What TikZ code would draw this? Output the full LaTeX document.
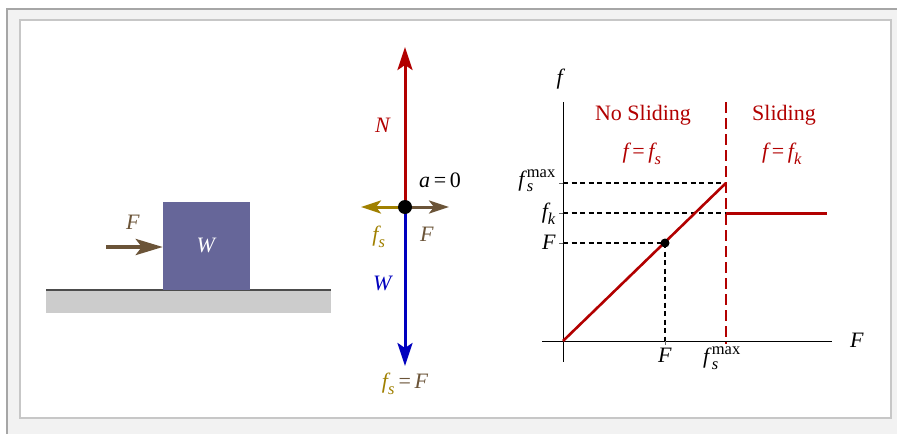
\documentclass[tikz,border=0pt]{standalone}
\usepackage{amsmath}
\usepackage{fontspec}
\setmainfont{Liberation Serif}
\usetikzlibrary{arrows.meta}
\definecolor{fred}{RGB}{178,0,0}
\definecolor{fblue}{RGB}{0,0,190}
\definecolor{fgold}{RGB}{160,128,0}
\definecolor{fbrown}{RGB}{107,84,56}
\definecolor{fblock}{RGB}{102,102,153}
\DeclareMathSizes{22}{22}{16.5}{12}
\newcommand\mi[1]{\textit{#1}}

\begin{document}
\begin{tikzpicture}[x=1pt, y=-1pt, font=\fontsize{22}{26}\selectfont,
  vec/.style={line width=3pt, -{Stealth[length=23pt, width=15pt, inset=5pt]}},
  side/.style={line width=3pt, -{Stealth[length=20pt, width=13pt, inset=5pt]}},
  push/.style={line width=4pt, fbrown, -{Stealth[length=27pt, width=16pt, inset=6pt]}},
  axis/.style={line width=0.9pt},
  guide/.style={line width=1.1pt, dash pattern=on 5pt off 3.5pt},
  limit/.style={fred, line width=1.8pt, dash pattern=on 11pt off 5pt},
  law/.style={fred, line width=2.6pt},
  lbl/.style={inner sep=1pt}]
  \useasboundingbox (0,0) rectangle (897,434);
  \fill[black!5] (7,9) rectangle (897,434);
  \draw[black!35, line width=2pt] (7,434) -- (7,9) -- (897,9);
  \draw[black!22, fill=white, line width=2pt] (20,20) rectangle (891,418);

  % block on the floor
  \fill[black!20] (46,290) rectangle (331,313);
  \draw[black!70, line width=1.5pt] (46,290) -- (331,290);
  \node[fill=fblock, minimum width=87pt, minimum height=88pt, text=white] (block) at (206.5,245.5) {\mi{W}};
  \coordinate (ftail) at (106,247);
  \draw[push] (ftail) -- (ftail -| block.west);
  \node[lbl, text=fbrown] (flbl) at (133,222) {\mi{F}};

  % free body diagram
  \coordinate (c) at (405,207);
  \coordinate (ntip) at (405,47);
  \coordinate (wtip) at (405,366);
  \coordinate (fstip) at (361,207);
  \coordinate (Ftip) at (449,207);
  \draw[vec, fred] (c) -- (ntip);
  \draw[vec, fblue] (c) -- (wtip);
  \draw[side, fgold] (c) -- (fstip);
  \draw[side, fbrown] (c) -- (Ftip);
  \node[circle, fill, inner sep=0, minimum size=14pt] (dot) at (c) {};
  \node[lbl, text=fred] (nlbl) at (383,125) {\mi{N}};
  \node[lbl, text=fblue] (wlbl) at (383,283) {\mi{W}};
  \node[lbl, text=fgold] (fslbl) at (379,237) {$\mi{f}_{\mi{s}}$};
  \node[lbl, text=fbrown] (Flbl) at (427,234) {\mi{F}};
  \node[lbl] (acc) at (440,180) {\mi{a}\,=\,0};
  \node[lbl] (bal) at (405,384) {$\color{fgold}\mi{f}_{\mi{s}}\color{fbrown}\textrm{\,=\,}\mi{F}$};

  % friction against applied force
  \coordinate (o) at (563,341);
  \coordinate (ytop) at (563,102);
  \coordinate (ybot) at (563,362);
  \coordinate (xleft) at (542,341);
  \coordinate (xright) at (832,341);
  \coordinate (smax) at (726,183);
  \coordinate (kin) at (726,213);
  \coordinate (kend) at (827,213);
  \coordinate (pt) at (665,243);
  \coordinate (stop) at (726,102);
  \coordinate (sbot) at (726,344);
  \draw[axis] (ytop) -- (ybot);
  \draw[axis] (xleft) -- (xright);
  \foreach \p in {smax,kin,pt}
    \draw[black!60, line width=0.8pt] (o |- \p) -- ++(-4,0);
  \draw[black!60, line width=0.8pt] (pt |- o) -- ++(0,4);
  \draw[guide] (o |- smax) -- (smax);
  \draw[guide] (o |- kin) -- (kin);
  \draw[guide] (o |- pt) -- (pt) -- (pt |- o);
  \draw[limit] (stop) -- (sbot);
  \draw[law] (o) -- (smax);
  \draw[law, line width=3pt] (kin) -- (kend);
  \node[circle, fill, inner sep=0, minimum size=9pt] (ptdot) at (pt) {};
  \node[lbl] (ylbl) at (561,79) {\mi{f}};
  \node[lbl] (xlbl) at (857,340) {\mi{F}};
  \node[lbl, text=fred] (nosl) at (643,115) {No Sliding};
  \node[lbl, text=fred] (sl) at (784,115) {Sliding};
  \node[lbl, text=fred] (fsrule) at (642,154) {$\mi{f}\textrm{\,=\,}\mi{f}_{\mi{s}}$};
  \node[lbl, text=fred] (fkrule) at (782,154) {$\mi{f}\textrm{\,=\,}\mi{f}_{\mi{k}}$};
  \node[lbl, anchor=east] (ysmax) at (557,181) {$\mi{f\/}_{\mi{s}}^{\textrm{max}}$};
  \node[lbl, anchor=east] (yk) at (557,214) {$\mi{f}_{\mi{k}}$};
  \node[lbl, anchor=east] (yF) at (557,242) {\mi{F}};
  \node[lbl, anchor=north] (xF) at (665,347) {\mi{F}};
  \node[lbl, anchor=north] (xsmax) at (722,346) {$\mi{f\/}_{\mi{s}}^{\textrm{max}}$};
\end{tikzpicture}
\end{document}
